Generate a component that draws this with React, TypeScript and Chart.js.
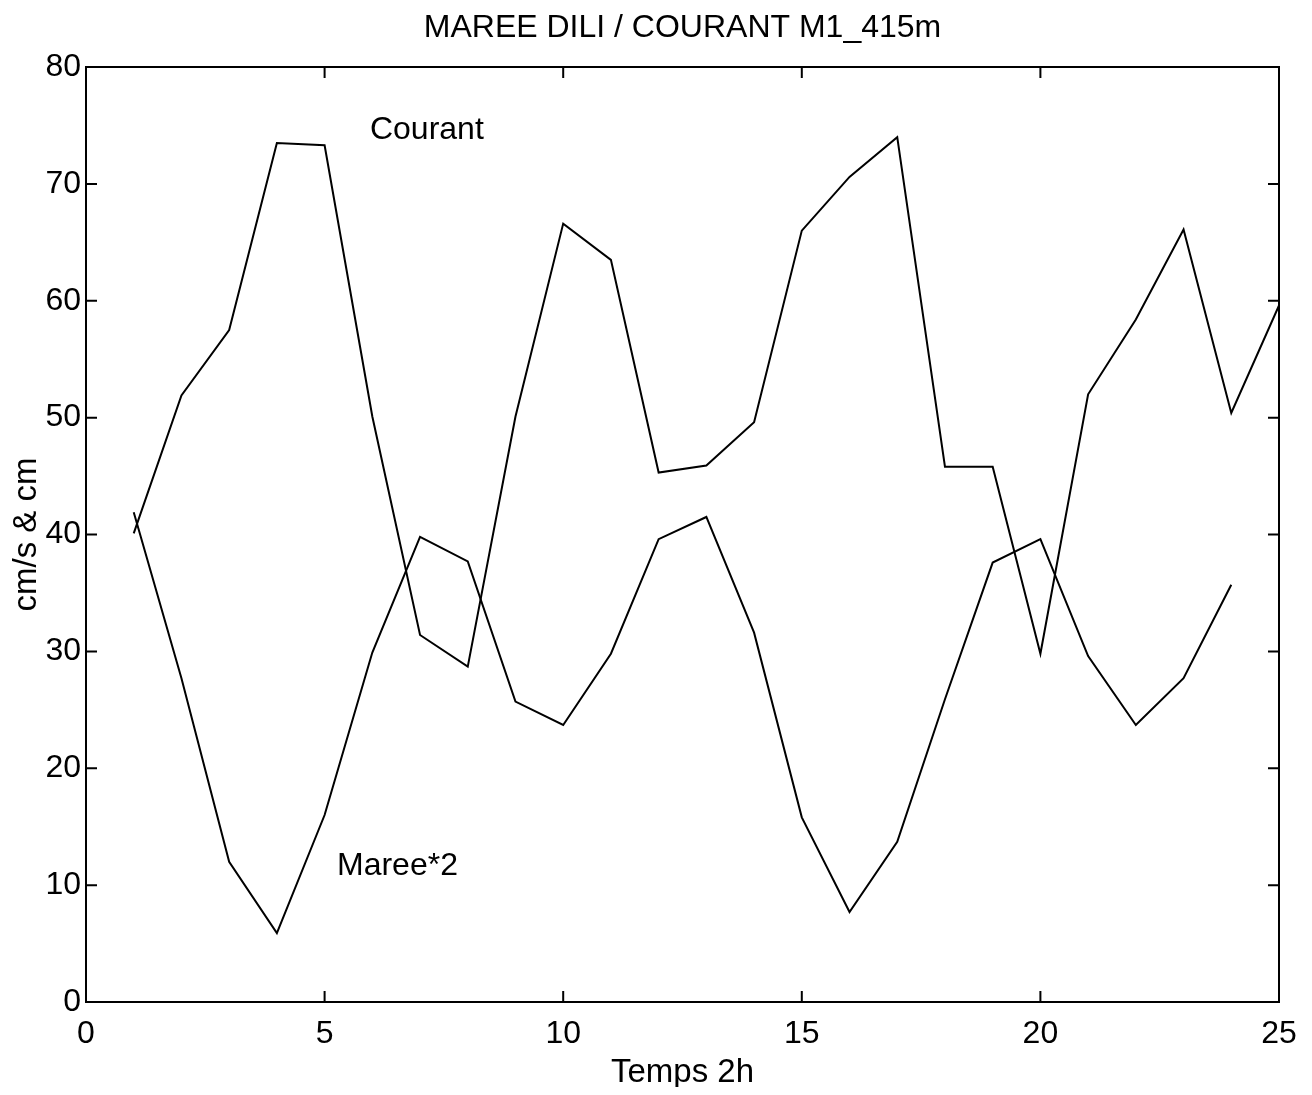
import { useEffect, useRef } from "react";
import { Chart, registerables } from "chart.js";

Chart.register(...registerables);

// ---- data ----
const timeSteps = [1, 2, 3, 4, 5, 6, 7, 8, 9, 10, 11, 12, 13, 14, 15, 16, 17, 18, 19, 20, 21, 22, 23, 24, 25];
const courant = [40.1, 51.9, 57.5, 73.5, 73.3, 50.1, 31.4, 28.7, 50.1, 66.6, 63.5, 45.3, 45.9, 49.6, 66.0, 70.6, 74.0, 45.8, 45.8, 29.8, 52.0, 58.4, 66.1, 50.4, 59.6];
const maree = [41.9, 27.7, 12.0, 5.9, 16.0, 29.9, 39.8, 37.7, 25.7, 23.7, 29.8, 39.6, 41.5, 31.6, 15.8, 7.7, 13.7, 25.9, 37.6, 39.6, 29.6, 23.7, 27.7, 35.7];
const xTicks = [0, 5, 10, 15, 20, 25];
const yTicks = [0, 10, 20, 30, 40, 50, 60, 70, 80];
const titleText = "MAREE DILI / COURANT M1_415m";
const xLabel = "Temps 2h";
const yLabel = "cm/s & cm";
const labelTexts = ["Courant", "Maree*2"];
const labelX = [5.95, 5.26];
const labelY = [73.8, 10.9];

const FONT = "'Liberation Sans', Arial, Helvetica, sans-serif";
const W = 1296;
const H = 1079;

const framePlugin = {
  id: "frame",
  afterDraw(chart: any) {
    const { ctx, chartArea } = chart;
    const { left, right, top, bottom } = chartArea;
    const xs = chart.scales.x;
    const ys = chart.scales.y;
    ctx.save();
    ctx.strokeStyle = "#000";
    ctx.lineWidth = 2;
    ctx.strokeRect(left, top, right - left, bottom - top);
    const tl = 11;
    ctx.beginPath();
    xTicks.forEach((v) => {
      const px = xs.getPixelForValue(v);
      ctx.moveTo(px, bottom);
      ctx.lineTo(px, bottom - tl);
      ctx.moveTo(px, top);
      ctx.lineTo(px, top + tl);
    });
    yTicks.forEach((v) => {
      const py = ys.getPixelForValue(v);
      ctx.moveTo(left, py);
      ctx.lineTo(left + tl, py);
      ctx.moveTo(right, py);
      ctx.lineTo(right - tl, py);
    });
    ctx.stroke();

    ctx.fillStyle = "#000";
    ctx.textAlign = "center";
    ctx.textBaseline = "alphabetic";
    // title
    ctx.font = `32px ${FONT}`;
    ctx.fillText(titleText, (left + right) / 2, 29);
    // x label
    ctx.font = `33px ${FONT}`;
    ctx.fillText(xLabel, (left + right) / 2, 1074);
    // y label
    ctx.save();
    ctx.translate(28, (top + bottom) / 2);
    ctx.rotate(-Math.PI / 2);
    ctx.font = `33px ${FONT}`;
    ctx.fillText(yLabel, 0, 0);
    ctx.restore();
    // in-plot labels
    ctx.font = `32px ${FONT}`;
    ctx.textAlign = "left";
    ctx.textBaseline = "alphabetic";
    labelTexts.forEach((t, i) => {
      ctx.fillText(t, xs.getPixelForValue(labelX[i]), ys.getPixelForValue(labelY[i]));
    });
    ctx.restore();
  },
};

export default function App() {
  const ref = useRef<HTMLCanvasElement | null>(null);
  useEffect(() => {
    if (!ref.current) return;
    const chart = new Chart(ref.current, {
      type: "line",
      data: {
        datasets: [
          {
            label: "Courant",
            data: courant.map((v, i) => ({ x: timeSteps[i], y: v })),
            borderColor: "#000",
            borderWidth: 2,
            pointRadius: 0,
            tension: 0,
            fill: false,
          },
          {
            label: "Maree*2",
            data: maree.map((v, i) => ({ x: timeSteps[i], y: v })),
            borderColor: "#000",
            borderWidth: 2,
            pointRadius: 0,
            tension: 0,
            fill: false,
          },
        ],
      },
      options: {
        responsive: false,
        animation: false,
        devicePixelRatio: 1,
        layout: { padding: { top: 59, right: 25, left: 0, bottom: 0 } },
        plugins: {
          legend: { display: false },
          title: { display: false },
          tooltip: { enabled: false },
        },
        scales: {
          x: {
            type: "linear",
            min: 0,
            max: 25,
            grid: { display: false, drawTicks: false },
            border: { display: false },
            afterBuildTicks: (s: any) => {
              s.ticks = xTicks.map((v) => ({ value: v }));
            },
            afterFit: (s: any) => {
              s.height = 85;
              s.paddingLeft = 0;
              s.paddingRight = 0;
            },
            ticks: {
              color: "#000",
              font: { family: FONT, size: 32 },
              padding: 13,
              maxRotation: 0,
              autoSkip: false,
            },
          },
          y: {
            type: "linear",
            min: 0,
            max: 80,
            grid: { display: false, drawTicks: false },
            border: { display: false },
            afterBuildTicks: (s: any) => {
              s.ticks = yTicks.map((v) => ({ value: v }));
            },
            afterFit: (s: any) => {
              s.width = 78;
              s.paddingTop = 0;
              s.paddingBottom = 0;
            },
            ticks: {
              color: "#000",
              font: { family: FONT, size: 32 },
              padding: 5,
              autoSkip: false,
            },
          },
        },
      },
      plugins: [framePlugin],
    });
    return () => chart.destroy();
  }, []);
  return (
    <div style={{ width: W, height: H }}>
      <canvas ref={ref} width={W} height={H} style={{ display: "block", width: W, height: H }} />
    </div>
  );
}
